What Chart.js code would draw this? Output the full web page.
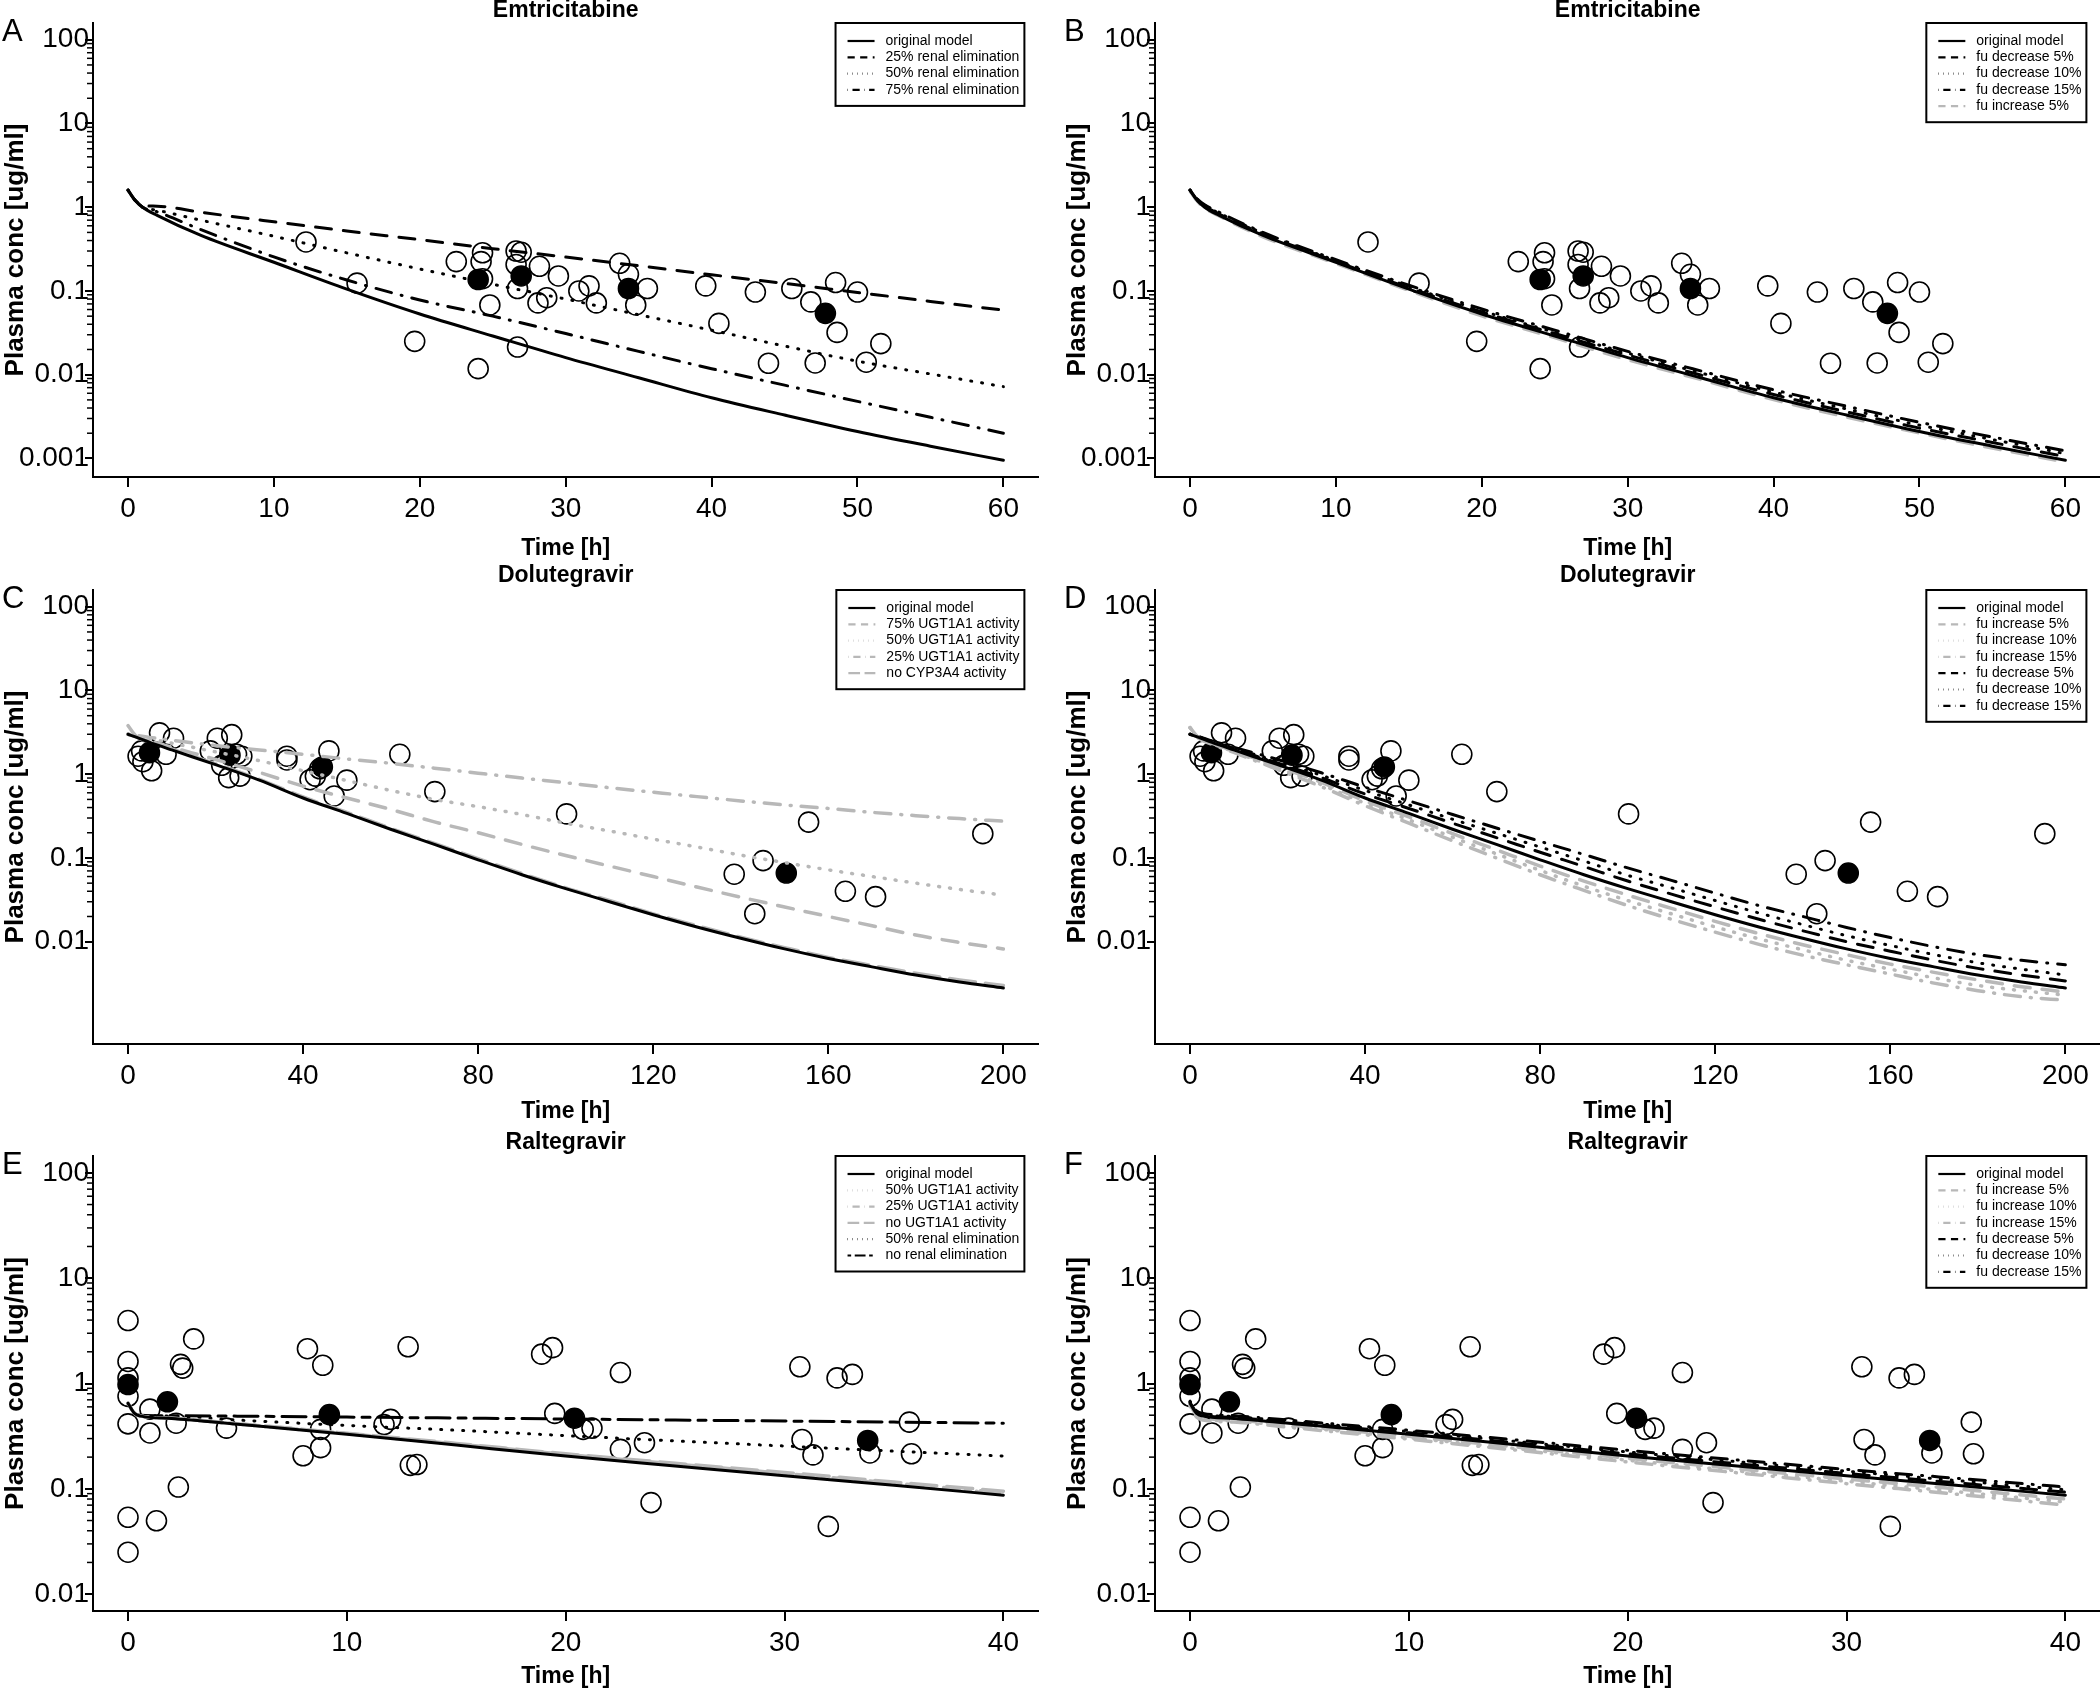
<!DOCTYPE html>
<html><head><meta charset="utf-8">
<script src="https://cdn.jsdelivr.net/npm/chart.js@4/dist/chart.umd.min.js"></script>
<style>
html,body{margin:0;padding:0;background:#fff;width:2100px;height:1688px;overflow:hidden;position:relative}
.p{position:absolute}
</style></head><body>
<div class="p" style="left:0;top:0;width:1050px;height:561px"><canvas id="cA"></canvas></div>
<div class="p" style="left:1062px;top:0;width:1050px;height:561px"><canvas id="cB"></canvas></div>
<div class="p" style="left:0;top:560px;width:1050px;height:564px"><canvas id="cC"></canvas></div>
<div class="p" style="left:1062px;top:560px;width:1050px;height:564px"><canvas id="cD"></canvas></div>
<div class="p" style="left:0;top:1120px;width:1050px;height:574px"><canvas id="cE"></canvas></div>
<div class="p" style="left:1062px;top:1120px;width:1050px;height:574px"><canvas id="cF"></canvas></div>
<script>
// ---------------- DATA ----------------
// Emtricitabine
const emtTime = [0, 0.5, 1, 2, 5, 10, 15, 20, 25, 30, 35, 40, 45, 50, 55, 60];
const emtOriginal = [1.6, 1.2, 1.0, 0.8, 0.46, 0.22, 0.105, 0.053, 0.029, 0.016, 0.0092, 0.0053, 0.0033, 0.0021, 0.0014, 0.00095];
const emtRenal25 = [1.6, 1.2, 1.05, 1.03, 0.87, 0.67, 0.52, 0.41, 0.32, 0.254, 0.2, 0.156, 0.123, 0.096, 0.075, 0.059];
const emtRenal50 = [1.6, 1.2, 1.0, 0.92, 0.7, 0.45, 0.285, 0.183, 0.12, 0.08, 0.052, 0.034, 0.022, 0.0145, 0.0102, 0.0072];
const emtRenal75 = [1.6, 1.2, 1.0, 0.88, 0.54, 0.255, 0.135, 0.078, 0.05, 0.031, 0.019, 0.0118, 0.0075, 0.0048, 0.0031, 0.002];
const emtFuDec5 = [1.6, 1.22, 1.03, 0.83, 0.48, 0.225, 0.109, 0.056, 0.031, 0.0172, 0.0099, 0.0058, 0.0036, 0.0023, 0.00155, 0.00105];
const emtFuDec10 = [1.6, 1.24, 1.05, 0.85, 0.49, 0.23, 0.113, 0.058, 0.032, 0.0181, 0.0105, 0.0062, 0.0039, 0.0025, 0.00168, 0.00114];
const emtFuDec15 = [1.6, 1.25, 1.07, 0.87, 0.5, 0.236, 0.117, 0.061, 0.034, 0.019, 0.0111, 0.0066, 0.0042, 0.0027, 0.0018, 0.00123];
const emtFuInc5 = [1.55, 1.17, 0.97, 0.78, 0.44, 0.212, 0.101, 0.05, 0.0275, 0.015, 0.0087, 0.005, 0.0031, 0.002, 0.00132, 0.0009];
const emtObsTime = [12.2, 15.7, 19.65, 22.5, 24.3, 24.2, 24.3, 24.8, 24.0, 26.6, 26.95, 26.6, 26.7, 26.7, 28.2, 28.1, 28.7, 29.5, 30.9, 31.6, 32.1, 33.7, 34.3, 34.8, 35.6, 39.6, 40.5, 43.0, 43.9, 45.5, 46.8, 47.1, 48.5, 48.6, 50.0, 50.6, 51.6];
const emtObsConc = [0.385, 0.124, 0.025, 0.224, 0.286, 0.224, 0.14, 0.068, 0.0118, 0.30, 0.29, 0.207, 0.107, 0.0214, 0.197, 0.072, 0.083, 0.151, 0.10, 0.115, 0.072, 0.214, 0.158, 0.068, 0.107, 0.115, 0.041, 0.097, 0.0137, 0.107, 0.074, 0.0138, 0.126, 0.032, 0.097, 0.0141, 0.0235];
const emtMeanTime = [24.0, 26.95, 34.3, 47.8];
const emtMeanConc = [0.137, 0.151, 0.107, 0.054];

// Dolutegravir
const dtgTime = [0, 2, 5, 10, 20, 30, 40, 50, 60, 70, 80, 90, 100, 110, 120, 130, 140, 150, 160, 170, 180, 190, 200];
const dtgOriginal = [3.0, 2.75, 2.4, 1.95, 1.3, 0.85, 0.52, 0.34, 0.22, 0.145, 0.095, 0.063, 0.043, 0.03, 0.021, 0.015, 0.011, 0.0082, 0.0063, 0.005, 0.004, 0.0033, 0.0028];
const dtgUgt75 = [3.0, 2.8, 2.5, 2.1, 1.5, 1.05, 0.72, 0.52, 0.38, 0.27, 0.2, 0.145, 0.107, 0.08, 0.06, 0.045, 0.034, 0.026, 0.02, 0.0155, 0.012, 0.0098, 0.0082];
const dtgUgt50 = [3.0, 2.85, 2.65, 2.35, 1.85, 1.45, 1.1, 0.84, 0.64, 0.5, 0.41, 0.33, 0.26, 0.21, 0.168, 0.135, 0.108, 0.088, 0.072, 0.06, 0.05, 0.042, 0.036];
const dtgUgt25 = [3.0, 2.9, 2.75, 2.55, 2.2, 1.95, 1.73, 1.52, 1.35, 1.18, 1.03, 0.9, 0.79, 0.69, 0.61, 0.54, 0.48, 0.43, 0.39, 0.35, 0.32, 0.295, 0.275];
const dtgNoCyp = [3.8, 2.8, 2.45, 2.0, 1.33, 0.87, 0.535, 0.35, 0.226, 0.149, 0.098, 0.065, 0.044, 0.031, 0.0215, 0.0155, 0.0113, 0.0085, 0.0065, 0.0052, 0.0042, 0.0035, 0.003];
const dtgFuInc5 = [3.6, 2.72, 2.35, 1.9, 1.24, 0.8, 0.48, 0.31, 0.195, 0.125, 0.08, 0.053, 0.036, 0.025, 0.0175, 0.0125, 0.0092, 0.007, 0.0054, 0.0043, 0.0035, 0.0029, 0.0025];
const dtgFuInc10 = [3.6, 2.7, 2.32, 1.86, 1.19, 0.75, 0.45, 0.285, 0.177, 0.112, 0.071, 0.046, 0.031, 0.0215, 0.015, 0.0108, 0.008, 0.006, 0.0047, 0.0037, 0.003, 0.0026, 0.0023];
const dtgFuInc15 = [3.6, 2.68, 2.28, 1.82, 1.14, 0.71, 0.42, 0.26, 0.16, 0.1, 0.063, 0.041, 0.027, 0.0185, 0.013, 0.0093, 0.0069, 0.0053, 0.0041, 0.0032, 0.0026, 0.0022, 0.002];
const dtgFuDec5 = [3.0, 2.78, 2.45, 2.0, 1.36, 0.91, 0.58, 0.39, 0.26, 0.175, 0.117, 0.079, 0.053, 0.037, 0.026, 0.0185, 0.0135, 0.01, 0.0077, 0.006, 0.0048, 0.004, 0.0034];
const dtgFuDec10 = [3.0, 2.8, 2.48, 2.05, 1.42, 0.97, 0.64, 0.43, 0.29, 0.198, 0.135, 0.092, 0.062, 0.044, 0.031, 0.022, 0.016, 0.0118, 0.009, 0.007, 0.0056, 0.0047, 0.004];
const dtgFuDec15 = [3.0, 2.82, 2.5, 2.1, 1.5, 1.04, 0.7, 0.48, 0.33, 0.228, 0.158, 0.11, 0.076, 0.054, 0.038, 0.027, 0.02, 0.0148, 0.0112, 0.0087, 0.007, 0.006, 0.0053];
const dtgObsTime = [2.3, 3.1, 3.4, 5.4, 7.2, 8.7, 10.4, 18.8, 20.4, 21.4, 23.0, 23.7, 24.8, 25.6, 26.0, 36.3, 36.3, 41.6, 42.8, 43.8, 45.9, 47.1, 50.0, 62.1, 70.1, 100.2, 138.5, 143.2, 145.1, 155.5, 163.9, 170.8, 195.3];
const dtgObsConc = [1.64, 1.9, 1.41, 1.1, 3.12, 1.73, 2.69, 1.9, 2.69, 1.28, 0.91, 2.97, 1.73, 0.95, 1.64, 1.64, 1.48, 0.86, 0.95, 1.16, 1.9, 0.55, 0.85, 1.73, 0.62, 0.336, 0.064, 0.0216, 0.093, 0.268, 0.04, 0.0345, 0.195];
const dtgMeanTime = [4.9, 23.3, 44.4, 150.4];
const dtgMeanConc = [1.81, 1.69, 1.22, 0.066];

// Raltegravir
const ralTime = [0, 0.3, 0.6, 2, 5, 10, 15, 20, 25, 30, 35, 40];
const ralOriginal = [0.65, 0.52, 0.49, 0.465, 0.41, 0.33, 0.26, 0.205, 0.165, 0.133, 0.108, 0.087];
const ralUgt50 = [0.65, 0.52, 0.49, 0.466, 0.412, 0.333, 0.265, 0.21, 0.17, 0.138, 0.111, 0.09];
const ralUgt25 = [0.65, 0.52, 0.49, 0.467, 0.414, 0.335, 0.267, 0.212, 0.172, 0.14, 0.113, 0.092];
const ralUgtNone = [0.65, 0.52, 0.49, 0.468, 0.416, 0.337, 0.27, 0.215, 0.175, 0.143, 0.116, 0.095];
const ralRenal50 = [0.65, 0.52, 0.5, 0.49, 0.45, 0.4, 0.36, 0.32, 0.285, 0.255, 0.228, 0.205];
const ralRenalNone = [0.65, 0.52, 0.5, 0.495, 0.49, 0.48, 0.47, 0.46, 0.45, 0.44, 0.43, 0.42];
const ralFuInc5 = [0.63, 0.5, 0.47, 0.45, 0.395, 0.315, 0.248, 0.195, 0.155, 0.124, 0.1, 0.08];
const ralFuInc10 = [0.62, 0.49, 0.46, 0.44, 0.385, 0.305, 0.24, 0.187, 0.148, 0.118, 0.094, 0.075];
const ralFuInc15 = [0.61, 0.48, 0.45, 0.43, 0.375, 0.296, 0.232, 0.18, 0.142, 0.112, 0.089, 0.07];
const ralFuDec5 = [0.66, 0.53, 0.5, 0.475, 0.42, 0.34, 0.272, 0.215, 0.173, 0.14, 0.114, 0.093];
const ralFuDec10 = [0.67, 0.54, 0.51, 0.485, 0.43, 0.35, 0.28, 0.224, 0.181, 0.147, 0.12, 0.098];
const ralFuDec15 = [0.68, 0.55, 0.52, 0.495, 0.44, 0.36, 0.29, 0.232, 0.188, 0.153, 0.126, 0.104];
const ralObsTime = [0, 0, 0, 0, 0, 0, 0, 1.0, 1.0, 1.3, 2.2, 2.4, 2.5, 2.3, 3.0, 4.5, 8.0, 8.2, 8.8, 8.8, 8.9, 11.7, 12.0, 12.8, 12.9, 13.2, 18.9, 19.4, 19.5, 20.8, 21.2, 22.5, 22.5, 23.6, 23.9, 30.7, 30.8, 31.3, 32.0, 32.4, 33.1, 33.9, 35.7, 35.8];
const ralObsConc = [3.96, 1.62, 1.13, 0.755, 0.414, 0.0537, 0.025, 0.571, 0.339, 0.0497, 0.42, 1.52, 1.4, 0.104, 2.65, 0.377, 0.206, 2.14, 0.246, 0.367, 1.49, 0.407, 0.456, 2.23, 0.167, 0.17, 1.9, 2.19, 0.52, 0.367, 0.377, 1.27, 0.237, 0.274, 0.074, 1.44, 0.294, 0.21, 0.044, 1.13, 1.22, 0.219, 0.43, 0.215];
const ralMeanTime = [0, 1.8, 9.2, 20.4, 33.8];
const ralMeanConc = [0.977, 0.67, 0.506, 0.468, 0.288];

// Axis ticks
const emtXTicks = [0, 10, 20, 30, 40, 50, 60];
const dtgXTicks = [0, 40, 80, 120, 160, 200];
const ralXTicks = [0, 10, 20, 30, 40];
const yTicksA = [0.001, 0.01, 0.1, 1, 10, 100];
const yTickLabelsA = ['0.001', '0.01', '0.1', '1', '10', '100'];
const yTicksB = [0.01, 0.1, 1, 10, 100];
const yTickLabelsB = ['0.01', '0.1', '1', '10', '100'];

// ---------------- STYLES ----------------
const FONT = '"Liberation Sans", Arial, Helvetica, sans-serif';
Chart.defaults.font.family = FONT;
Chart.defaults.color = '#000';
const BLACK = '#000000', GREY = '#b8b8b8';
const DASH = {solid: [], dashed: [16, 12], dotted: [1, 10], dotdash: [1, 10, 16, 10], longdash: [26, 10], twodash: [8, 8, 24, 8]};

function zip(xs, ys) { return xs.map((x, i) => ({x: x, y: ys[i]})); }

const decor = {
  id: 'decor',
  afterDraw(chart) {
    const o = chart.options.plugins.decor;
    const ctx = chart.ctx, ca = chart.chartArea, ys = chart.scales.y;
    ctx.save();
    // minor log ticks
    ctx.strokeStyle = '#000'; ctx.lineWidth = 1.5;
    for (let k = o.minorFrom; k < o.minorTo; k++) {
      for (let m = 2; m <= 9; m++) {
        const v = m * Math.pow(10, k);
        const y = ys.getPixelForValue(v);
        ctx.beginPath(); ctx.moveTo(ca.left, y); ctx.lineTo(ca.left - 6, y); ctx.stroke();
      }
    }
    ctx.fillStyle = '#000';
    // panel title
    ctx.font = 'bold 23px ' + FONT; ctx.textAlign = 'center'; ctx.textBaseline = 'middle';
    ctx.fillText(o.title, (ca.left + ca.right) / 2, o.titleY);
    // panel letter
    ctx.font = '31px ' + FONT; ctx.textAlign = 'left'; ctx.textBaseline = 'middle';
    ctx.fillText(o.letter, 2, ys.getPixelForValue(100) - 7);
    // legend
    const items = chart.data.datasets.filter(d => d.inLegend);
    ctx.font = '14px ' + FONT;
    const maxW = Math.max(...items.map(d => ctx.measureText(d.label).width));
    const right = ca.right - 14;
    const textX = right - 5 - maxW;
    const sEnd = textX - 11, sStart = sEnd - 27, left = sStart - 12;
    const top = ca.top, rowH = 16.3, firstY = top + 18;
    const bottom = firstY + rowH * (items.length - 1) + 16;
    ctx.fillStyle = '#fff'; ctx.fillRect(left, top, right - left, bottom - top);
    ctx.strokeStyle = '#000'; ctx.lineWidth = 2; ctx.setLineDash([]);
    ctx.strokeRect(left, top, right - left, bottom - top);
    items.forEach((d, i) => {
      const y = firstY + i * rowH;
      ctx.beginPath();
      ctx.setLineDash(d.borderDash.map(v => v * 0.45));
      ctx.lineWidth = 2.2; ctx.lineCap = 'butt'; ctx.strokeStyle = d.borderColor;
      ctx.moveTo(sStart, y); ctx.lineTo(sEnd, y); ctx.stroke();
      ctx.setLineDash([]);
      ctx.fillStyle = '#000'; ctx.textAlign = 'left'; ctx.textBaseline = 'middle';
      ctx.fillText(d.label, textX, y);
    });
    ctx.restore();
  }
};

function makePanel(id, p) {
  const datasets = [];
  p.lines.forEach(l => datasets.push({
    label: l.label, data: zip(p.time, l.values), showLine: true, inLegend: true,
    borderColor: l.color, borderWidth: l.width || 3, borderDash: l.dash, borderCapStyle: 'round',
    pointRadius: 0, fill: false, order: 0, cubicInterpolationMode: 'monotone'
  }));
  datasets.push({label: 'observed', data: zip(p.obsX, p.obsY), showLine: false, pointRadius: 10,
    pointBorderWidth: 1.6, pointBorderColor: '#000', pointBackgroundColor: 'rgba(0,0,0,0)', order: 2});
  datasets.push({label: 'mean', data: zip(p.meanX, p.meanY), showLine: false, pointRadius: 10,
    pointBorderWidth: 1.6, pointBorderColor: '#000', pointBackgroundColor: '#000', order: 1});
  return new Chart(document.getElementById(id), {
    type: 'scatter',
    data: {datasets: datasets},
    options: {
      responsive: true, maintainAspectRatio: false, animation: false, devicePixelRatio: 1,
      events: [],
      layout: {padding: {left: 0, right: 1, top: p.chartTop, bottom: 0}},
      plugins: {
        legend: {display: false}, tooltip: {enabled: false}, title: {display: false},
        decor: {letter: p.letter, title: p.title, titleY: p.titleY, minorFrom: p.minorFrom, minorTo: p.minorTo}
      },
      scales: {
        x: {
          type: 'linear', position: 'bottom', min: p.xMin, max: p.xMax,
          afterBuildTicks: s => { s.ticks = p.xTicks.map(v => ({value: v})); },
          afterFit: s => { s.height = p.xAxisH; },
          ticks: {font: {size: 28}, color: '#000', padding: 5, maxRotation: 0, autoSkip: false},
          grid: {drawOnChartArea: false, drawTicks: true, tickLength: 10, color: '#000', lineWidth: 2},
          border: {display: true, color: '#000', width: 2},
          title: {display: true, text: 'Time [h]', color: '#000', font: {size: 23, weight: 'bold', lineHeight: 1}, padding: {top: 0, bottom: p.xTitlePad}}
        },
        y: {
          type: 'logarithmic', position: 'left', min: p.yMin, max: p.yMax,
          afterBuildTicks: s => { s.ticks = p.yTicks.map(v => ({value: v})); },
          afterFit: s => { s.width = 93; },
          ticks: {font: {size: 28}, color: '#000', padding: -4, autoSkip: false,
            callback: (v, i) => p.yLabels[i]},
          grid: {drawOnChartArea: false, drawTicks: true, tickLength: 8, color: '#000', lineWidth: 2},
          border: {display: true, color: '#000', width: 2},
          title: {display: true, text: 'Plasma conc [ug/ml]', color: '#000', font: {size: 26, weight: 'bold', lineHeight: 1}, padding: {top: 3, bottom: 0}}
        }
      }
    },
    plugins: [decor]
  });
}

const emtBase = {time: emtTime, obsX: emtObsTime, obsY: emtObsConc, meanX: emtMeanTime, meanY: emtMeanConc,
  title: 'Emtricitabine', chartTop: 23, titleY: 11, xMin: -2.4, xMax: 62.4, xTicks: emtXTicks, xAxisH: 84, xTitlePad: 1,
  yMin: Math.pow(10, -3.2), yMax: Math.pow(10, 2.2), yTicks: yTicksA, yLabels: yTickLabelsA, minorFrom: -3, minorTo: 2};
const dtgBase = {time: dtgTime, obsX: dtgObsTime, obsY: dtgObsConc, meanX: dtgMeanTime, meanY: dtgMeanConc,
  title: 'Dolutegravir', chartTop: 30, titleY: 16, xMin: -8, xMax: 208, xTicks: dtgXTicks, xAxisH: 80, xTitlePad: 1,
  yMin: Math.pow(10, -3.2), yMax: Math.pow(10, 2.2), yTicks: yTicksB, yLabels: yTickLabelsB, minorFrom: -2, minorTo: 2};
const ralBase = {time: ralTime, obsX: ralObsTime, obsY: ralObsConc, meanX: ralMeanTime, meanY: ralMeanConc,
  title: 'Raltegravir', chartTop: 36, titleY: 23, xMin: -1.6, xMax: 41.6, xTicks: ralXTicks, xAxisH: 83, xTitlePad: 6,
  yMin: Math.pow(10, -2.16), yMax: Math.pow(10, 2.16), yTicks: yTicksB, yLabels: yTickLabelsB, minorFrom: -2, minorTo: 2};

makePanel('cA', Object.assign({}, emtBase, {letter: 'A', lines: [
  {label: 'original model', values: emtOriginal, color: BLACK, dash: DASH.solid},
  {label: '25% renal elimination', values: emtRenal25, color: BLACK, dash: DASH.dashed},
  {label: '50% renal elimination', values: emtRenal50, color: BLACK, dash: DASH.dotted},
  {label: '75% renal elimination', values: emtRenal75, color: BLACK, dash: DASH.dotdash}
]}));
makePanel('cB', Object.assign({}, emtBase, {letter: 'B', lines: [
  {label: 'original model', values: emtOriginal, color: BLACK, dash: DASH.solid},
  {label: 'fu decrease 5%', values: emtFuDec5, color: BLACK, dash: DASH.dashed},
  {label: 'fu decrease 10%', values: emtFuDec10, color: BLACK, dash: DASH.dotted},
  {label: 'fu decrease 15%', values: emtFuDec15, color: BLACK, dash: DASH.dotdash},
  {label: 'fu increase 5%', values: emtFuInc5, color: GREY, dash: DASH.dashed}
]}));
makePanel('cC', Object.assign({}, dtgBase, {letter: 'C', lines: [
  {label: 'original model', values: dtgOriginal, color: BLACK, dash: DASH.solid},
  {label: '75% UGT1A1 activity', values: dtgUgt75, color: GREY, dash: DASH.dashed, width: 3.5},
  {label: '50% UGT1A1 activity', values: dtgUgt50, color: GREY, dash: DASH.dotted, width: 3.5},
  {label: '25% UGT1A1 activity', values: dtgUgt25, color: GREY, dash: DASH.dotdash, width: 3.5},
  {label: 'no CYP3A4 activity', values: dtgNoCyp, color: GREY, dash: DASH.longdash, width: 3.5}
]}));
makePanel('cD', Object.assign({}, dtgBase, {letter: 'D', lines: [
  {label: 'original model', values: dtgOriginal, color: BLACK, dash: DASH.solid},
  {label: 'fu increase 5%', values: dtgFuInc5, color: GREY, dash: DASH.dashed, width: 3.5},
  {label: 'fu increase 10%', values: dtgFuInc10, color: GREY, dash: DASH.dotted, width: 3.5},
  {label: 'fu increase 15%', values: dtgFuInc15, color: GREY, dash: DASH.dotdash, width: 3.5},
  {label: 'fu decrease 5%', values: dtgFuDec5, color: BLACK, dash: DASH.dashed},
  {label: 'fu decrease 10%', values: dtgFuDec10, color: BLACK, dash: DASH.dotted},
  {label: 'fu decrease 15%', values: dtgFuDec15, color: BLACK, dash: DASH.dotdash}
]}));
makePanel('cE', Object.assign({}, ralBase, {letter: 'E', lines: [
  {label: 'original model', values: ralOriginal, color: BLACK, dash: DASH.solid},
  {label: '50% UGT1A1 activity', values: ralUgt50, color: GREY, dash: DASH.dotted, width: 3.5},
  {label: '25% UGT1A1 activity', values: ralUgt25, color: GREY, dash: DASH.dotdash, width: 3.5},
  {label: 'no UGT1A1 activity', values: ralUgtNone, color: GREY, dash: DASH.longdash, width: 3.5},
  {label: '50% renal elimination', values: ralRenal50, color: BLACK, dash: DASH.dotted},
  {label: 'no renal elimination', values: ralRenalNone, color: BLACK, dash: DASH.twodash}
]}));
makePanel('cF', Object.assign({}, ralBase, {letter: 'F', lines: [
  {label: 'original model', values: ralOriginal, color: BLACK, dash: DASH.solid},
  {label: 'fu increase 5%', values: ralFuInc5, color: GREY, dash: DASH.dashed, width: 3.5},
  {label: 'fu increase 10%', values: ralFuInc10, color: GREY, dash: DASH.dotted, width: 3.5},
  {label: 'fu increase 15%', values: ralFuInc15, color: GREY, dash: DASH.dotdash, width: 3.5},
  {label: 'fu decrease 5%', values: ralFuDec5, color: BLACK, dash: DASH.dashed},
  {label: 'fu decrease 10%', values: ralFuDec10, color: BLACK, dash: DASH.dotted},
  {label: 'fu decrease 15%', values: ralFuDec15, color: BLACK, dash: DASH.dotdash}
]}));
</script>
</body></html>
